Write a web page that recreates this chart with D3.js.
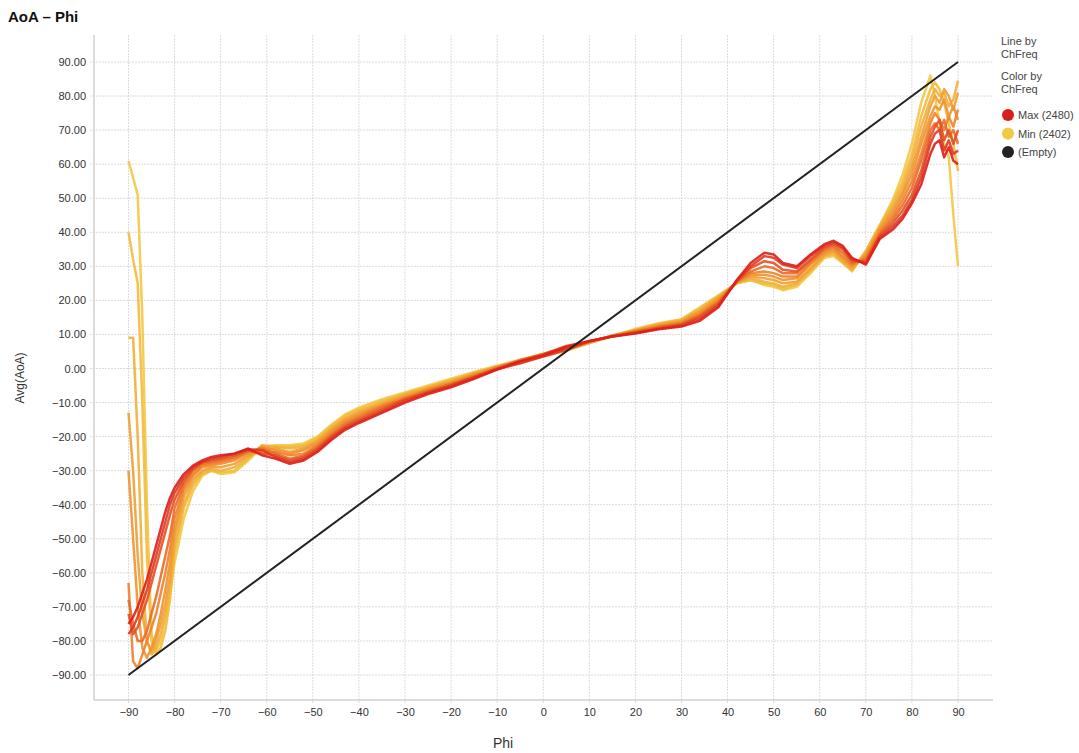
<!DOCTYPE html>
<html><head><meta charset="utf-8">
<script src="https://cdn.jsdelivr.net/npm/d3@7"></script>
<style>
body{margin:0;background:#fff;}
text{font-family:"Liberation Sans",Arial,sans-serif;}
</style>
</head><body>
<svg id="c" width="1079" height="753"></svg>
<script>
// ---- data ----
const phi = [-90,-89,-88,-87,-86,-85,-84,-83,-82,-81,
  -80,-78,-76,-74,-72,-70,-67,-64,-61,-58,
  -55,-52,-49,-46,-43,-40,-35,-30,-25,-20,
  -15,-10,-5,0,5,10,15,20,25,30,
  34,38,42,45,48,50,52,55,58,61,
  63,65,67,70,73,76,78,80,82,84,
  85,86,87,88,89,90];
const channels = [2402,2410,2418,2428,2436,2444,2452,2462,2470,2480];
const aoa2402 = [61,56,51,15,-40,-78,-83,-80,-74,-66,
  -57,-44,-36,-31.5,-30,-31,-30.5,-27,-23,-22.5,
  -22.5,-22,-20,-16.5,-13.5,-11.5,-9,-7,-5,-3,
  -1,0.8,2.2,4.4,5.4,7.5,9.5,11.6,13.3,14.5,
  18,21.5,25,26,24.5,24,23,24,28,32.5,
  33,31,28.5,34.5,42,50,57,66,78,86,
  80,72,66,62,45,30];
const aoa2410 = [40,32,25,-10,-55,-80,-84,-82,-77,-68,
  -54,-41,-34.5,-31,-30,-30.5,-30,-26.5,-23.5,-23,
  -23,-22.5,-20.5,-17,-14,-12,-9.5,-7.5,-5.5,-3.5,
  -1.2,0.7,2.6,4.2,6.0,7.6,9.6,11.4,13.1,14.3,
  17.6,21.2,25,26,25,24.5,23.5,24.5,28.5,33,
  33.5,31,29,34.5,42,49,55,63,74,82,
  84,82,78,72,66,58];
const aoa2418 = [9,9,-20,-60,-80,-84,-82,-78,-72,-64,
  -52,-39.5,-33.5,-30.5,-29.5,-30,-29,-26,-22.5,-23,
  -23.5,-23,-21,-17.5,-14.5,-12.5,-10,-7.5,-5.5,-3.5,
  -1.5,0.5,1.8,3.6,5.2,7.5,9.5,11.3,12.9,14.1,
  17.2,21,25.2,26.5,25.5,25,24,25,29,33,
  34,31.5,29,34,41.5,48,53.5,61,71,79,
  82,80,81,77,79,84.5];
const aoa2428 = [-13,-30,-55,-72,-80,-83,-80,-75,-69,-61,
  -49,-37.5,-32.5,-30,-29,-29,-28,-25.5,-24,-23.5,
  -24.5,-23.5,-21.5,-18,-15,-13,-10.5,-8,-6,-4,
  -1.5,0.5,2.4,4.0,6.2,7.7,9.7,11.2,12.7,13.9,
  16.8,20.6,25.2,27,26.5,26,25,25.5,29.5,33.5,
  34.5,32,29.5,33.5,41,47,52,59,68,77,
  80,78,82,80,76,81];
const aoa2436 = [-30,-50,-70,-82,-85,-82,-78,-72,-65,-57,
  -47,-36,-31.5,-29,-28.5,-28,-27,-25,-23,-24,
  -25,-24,-22,-18.5,-15.5,-13.5,-11,-8.5,-6,-4,
  -2,0.3,1.6,3.8,5.6,7.8,9.6,11,12.5,13.6,
  16.4,20.2,25.4,27.5,27.5,27,26,26.5,30.5,34,
  35,32.5,30,33,40.5,46,51,57,66,74,
  77,76,79,74,77,73];
const aoa2444 = [-63,-86,-88,-84,-80,-76,-72,-66,-60,-53,
  -44,-35,-31,-28.5,-28,-27.5,-26.5,-24.5,-24.5,-24.5,
  -25.5,-25,-22.5,-19,-16,-14,-11,-8.5,-6.5,-4.5,
  -2,0.3,2.5,4.3,6.4,7.8,9.6,10.9,12.3,13.4,
  16,19.8,25.4,28,28.5,28,27,27,31,34.5,
  35.5,33,30.5,32.5,40,45,49.5,55,63,72,
  75,73,70,74,71,76];
const aoa2452 = [-68,-75,-80,-80,-77,-72,-67,-61,-55,-49,
  -41,-34,-30,-28,-27.5,-27,-26,-24.3,-23.5,-25,
  -26.5,-25.5,-23,-19.5,-16.5,-14.5,-11.5,-9,-6.5,-4.5,
  -2.3,0,1.9,3.7,5.8,7.9,9.5,10.8,12.1,13.1,
  15.6,19.4,25.6,28.5,30,29.5,28,28,31.5,35,
  36,34,31,32,39.5,44,48,53,61,70,
  72,70,73,68,70,66];
const aoa2462 = [-72,-78,-76,-72,-68,-63,-58,-53,-48,-43,
  -38.5,-33,-29.5,-27.5,-27,-26.5,-25.5,-24,-25,-25.5,
  -27,-26,-23.5,-20,-17,-15,-12,-9,-7,-5,
  -2.5,0,2.3,4.1,6.6,8,9.5,10.6,11.9,12.9,
  15.2,19,25.6,29.5,31.5,31,29,28.5,32,35.5,
  36.5,35,31.5,31.5,39,43,46.5,51,58,68,
  71,73,67,70,66,70];
const aoa2470 = [-78,-76,-73,-69,-65,-60,-55,-50,-45,-40,
  -36.5,-32,-29,-27.5,-26.5,-26,-25,-23.7,-24,-26,
  -27.5,-26.5,-24,-20.5,-17.5,-15.5,-12.5,-9.5,-7,-5,
  -2.7,-0.2,1.5,3.5,5.5,8,9.4,10.5,11.7,12.6,
  14.6,18.5,25.8,30,33,32.5,30.5,29.5,33,36,
  37,35.5,32,31,38.5,42,45,49.5,56,66,
  69,70,64,67,63,64];
const aoa2480 = [-75,-73,-70,-66,-62,-57,-52,-47,-42,-38,
  -35,-31,-28.5,-27,-26,-25.5,-25,-23.5,-25.5,-26.5,
  -28,-27,-24.5,-21,-18,-16,-13,-10,-7.5,-5.5,
  -3,-0.3,2.1,3.9,6.3,8.1,9.4,10.3,11.5,12.3,
  14,18,26,31,34,33.5,31,30,33.5,36.5,
  37.5,36,32.5,30.5,38,41,44,48.5,54,63,
  66,67,62,65,61,60];
const seriesValues = [aoa2402,aoa2410,aoa2418,aoa2428,aoa2436,aoa2444,aoa2452,aoa2462,aoa2470,aoa2480];
const emptyPhi = [-90, 90];
const emptyAoA = [-90, 90];
const xTickValues = [-90,-80,-70,-60,-50,-40,-30,-20,-10,0,10,20,30,40,50,60,70,80,90];
const yTickValues = [-90,-80,-70,-60,-50,-40,-30,-20,-10,0,10,20,30,40,50,60,70,80,90];
const legendLabels = ["Max (2480)","Min (2402)","(Empty)"];

// ---- chart ----
const svg = d3.select("#c");
svg.append("rect").attr("width",1079).attr("height",753).attr("fill","#fff");
const L=94, R=993, T=35, B=700;
const x = d3.scaleLinear().domain([-90,90]).range([128.5,958]);
const y = d3.scaleLinear().domain([-90,90]).range([675,62]);
const color = d3.scaleLinear().domain([2402,2441,2480]).range(["#f3c843","#ef8a2c","#da1e1c"]).interpolate(d3.interpolateRgb);

svg.append("text").attr("x",8).attr("y",22).attr("font-size",15).attr("font-weight","bold").attr("fill","#111").text("AoA \u2013 Phi");

// grid
const grid = svg.append("g");
grid.selectAll(".vg").data(xTickValues).join("line")
  .attr("x1",d=>x(d)).attr("x2",d=>x(d)).attr("y1",T).attr("y2",B+4)
  .attr("stroke","#dcdcdc").attr("stroke-dasharray","2,1");
grid.selectAll(".hg").data(yTickValues).join("line")
  .attr("y1",d=>y(d)).attr("y2",d=>y(d)).attr("x1",L-4).attr("x2",R)
  .attr("stroke","#dcdcdc").attr("stroke-dasharray","2,1");
// axis lines
svg.append("line").attr("x1",L).attr("x2",L).attr("y1",T).attr("y2",B).attr("stroke","#d0d0d0").attr("stroke-width",1.5);
svg.append("line").attr("x1",L).attr("x2",R).attr("y1",B).attr("y2",B).attr("stroke","#d0d0d0").attr("stroke-width",1.5);

// tick labels via axes
const xAxis = d3.axisBottom(x).tickValues(xTickValues).tickSize(0).tickPadding(0).tickFormat(d3.format("d"));
const gx = svg.append("g").attr("transform",`translate(0,${B+8})`).call(xAxis);
gx.select(".domain").remove();
gx.selectAll("text").attr("font-size",11).attr("fill","#333").attr("dy","0.71em").attr("font-family","Liberation Sans, Arial, sans-serif");
const yAxis = d3.axisLeft(y).tickValues(yTickValues).tickSize(0).tickPadding(0).tickFormat(d3.format(".2f"));
const gy = svg.append("g").attr("transform",`translate(86,0)`).call(yAxis);
gy.select(".domain").remove();
gy.selectAll("text").attr("font-size",11).attr("fill","#333").attr("font-family","Liberation Sans, Arial, sans-serif");

// axis titles
svg.append("text").attr("x",503).attr("y",748).attr("text-anchor","middle").attr("font-size",14).attr("fill","#333").text("Phi");
svg.append("text").attr("transform","translate(24,378) rotate(-90)").attr("text-anchor","middle").attr("font-size",12).attr("fill","#333").text("Avg(AoA)");

// lines
const line = d3.line().x(d=>x(d[0])).y(d=>y(d[1]));
const plot = svg.append("g");
seriesValues.forEach((vals,i)=>{
  const pts = phi.map((p,j)=>[p,vals[j]]);
  plot.append("path").datum(pts).attr("d",line).attr("fill","none")
    .attr("stroke",color(channels[i])).attr("stroke-width",2.5).attr("stroke-opacity",0.9)
    .attr("stroke-linejoin","round");
});
plot.append("path").datum(emptyPhi.map((p,j)=>[p,emptyAoA[j]])).attr("d",line)
  .attr("fill","none").attr("stroke","#222").attr("stroke-width",2);

// legend
const lg = svg.append("g").attr("font-size",11).attr("fill","#444");
lg.append("text").attr("x",1001).attr("y",45).text("Line by");
lg.append("text").attr("x",1001).attr("y",58).text("ChFreq");
lg.append("text").attr("x",1001).attr("y",80).text("Color by");
lg.append("text").attr("x",1001).attr("y",93).text("ChFreq");
const legColors = [color(2480), color(2402), "#222"];
legendLabels.forEach((t,i)=>{
  const cy = 115 + i*18.5;
  lg.append("circle").attr("cx",1008).attr("cy",cy).attr("r",6).attr("fill",legColors[i]);
  lg.append("text").attr("x",1018).attr("y",cy+4).text(t);
});
</script>
</body></html>
